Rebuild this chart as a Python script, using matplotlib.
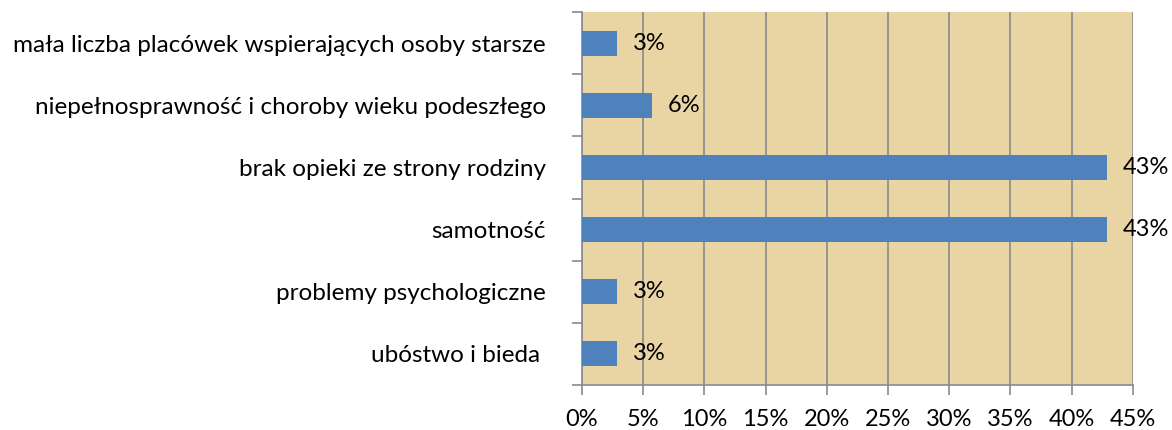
import numpy as np
from matplotlib import pyplot as plt
from matplotlib.ticker import MultipleLocator, FuncFormatter

categories = ['ubóstwo i bieda ', 'problemy psychologiczne', 'samotność',
              'brak opieki ze strony rodziny',
              'niepełnosprawność i choroby wieku podeszłego',
              'mała liczba placówek wspierających osoby starsze']
values = [2.86, 2.86, 42.86, 42.86, 5.71, 2.86]
value_labels = ['3%', '3%', '43%', '43%', '6%', '3%']

plt.rcParams['font.family'] = ['Lato', 'DejaVu Sans']

fig = plt.figure(figsize=(11.72, 4.3), dpi=100, facecolor='white')
ax = fig.add_axes([0.4966, 0.1047, 0.47, 0.8673])
ax.set_facecolor('#e9d5a4')
ax.set_axisbelow(True)

y = np.arange(len(categories))
ax.barh(y, values, height=0.4, color='#4f81bd', zorder=3)
for yi, v, lab in zip(y, values, value_labels):
    ax.text(v + 1.3, yi, lab, va='center', ha='left', fontsize=17, color='black',
            zorder=4, clip_on=False)

ax.set_xlim(0, 45)
ax.set_ylim(-0.5, len(categories) - 0.5)
ax.xaxis.set_major_locator(MultipleLocator(5))
ax.xaxis.set_major_formatter(FuncFormatter(lambda v, p: f'{int(round(v))}%'))
ax.grid(axis='x', color='#8a8a8a', lw=1.2)

ax.set_yticks(y)
ax.set_yticklabels(categories, fontsize=17.5)
ax.set_yticks(np.arange(-0.5, len(categories)), minor=True)
ax.tick_params(axis='y', which='major', length=0, pad=26)
ax.tick_params(axis='y', which='minor', length=7, color='#8a8a8a', width=1.2)
ax.tick_params(axis='x', length=7, color='#8a8a8a', width=1.2, labelsize=17, pad=10)

for s in ['top', 'right']:
    ax.spines[s].set_visible(False)
for s in ['left', 'bottom']:
    ax.spines[s].set_color('#8a8a8a')
    ax.spines[s].set_linewidth(1.2)

fig.savefig('out.png', dpi=100)
